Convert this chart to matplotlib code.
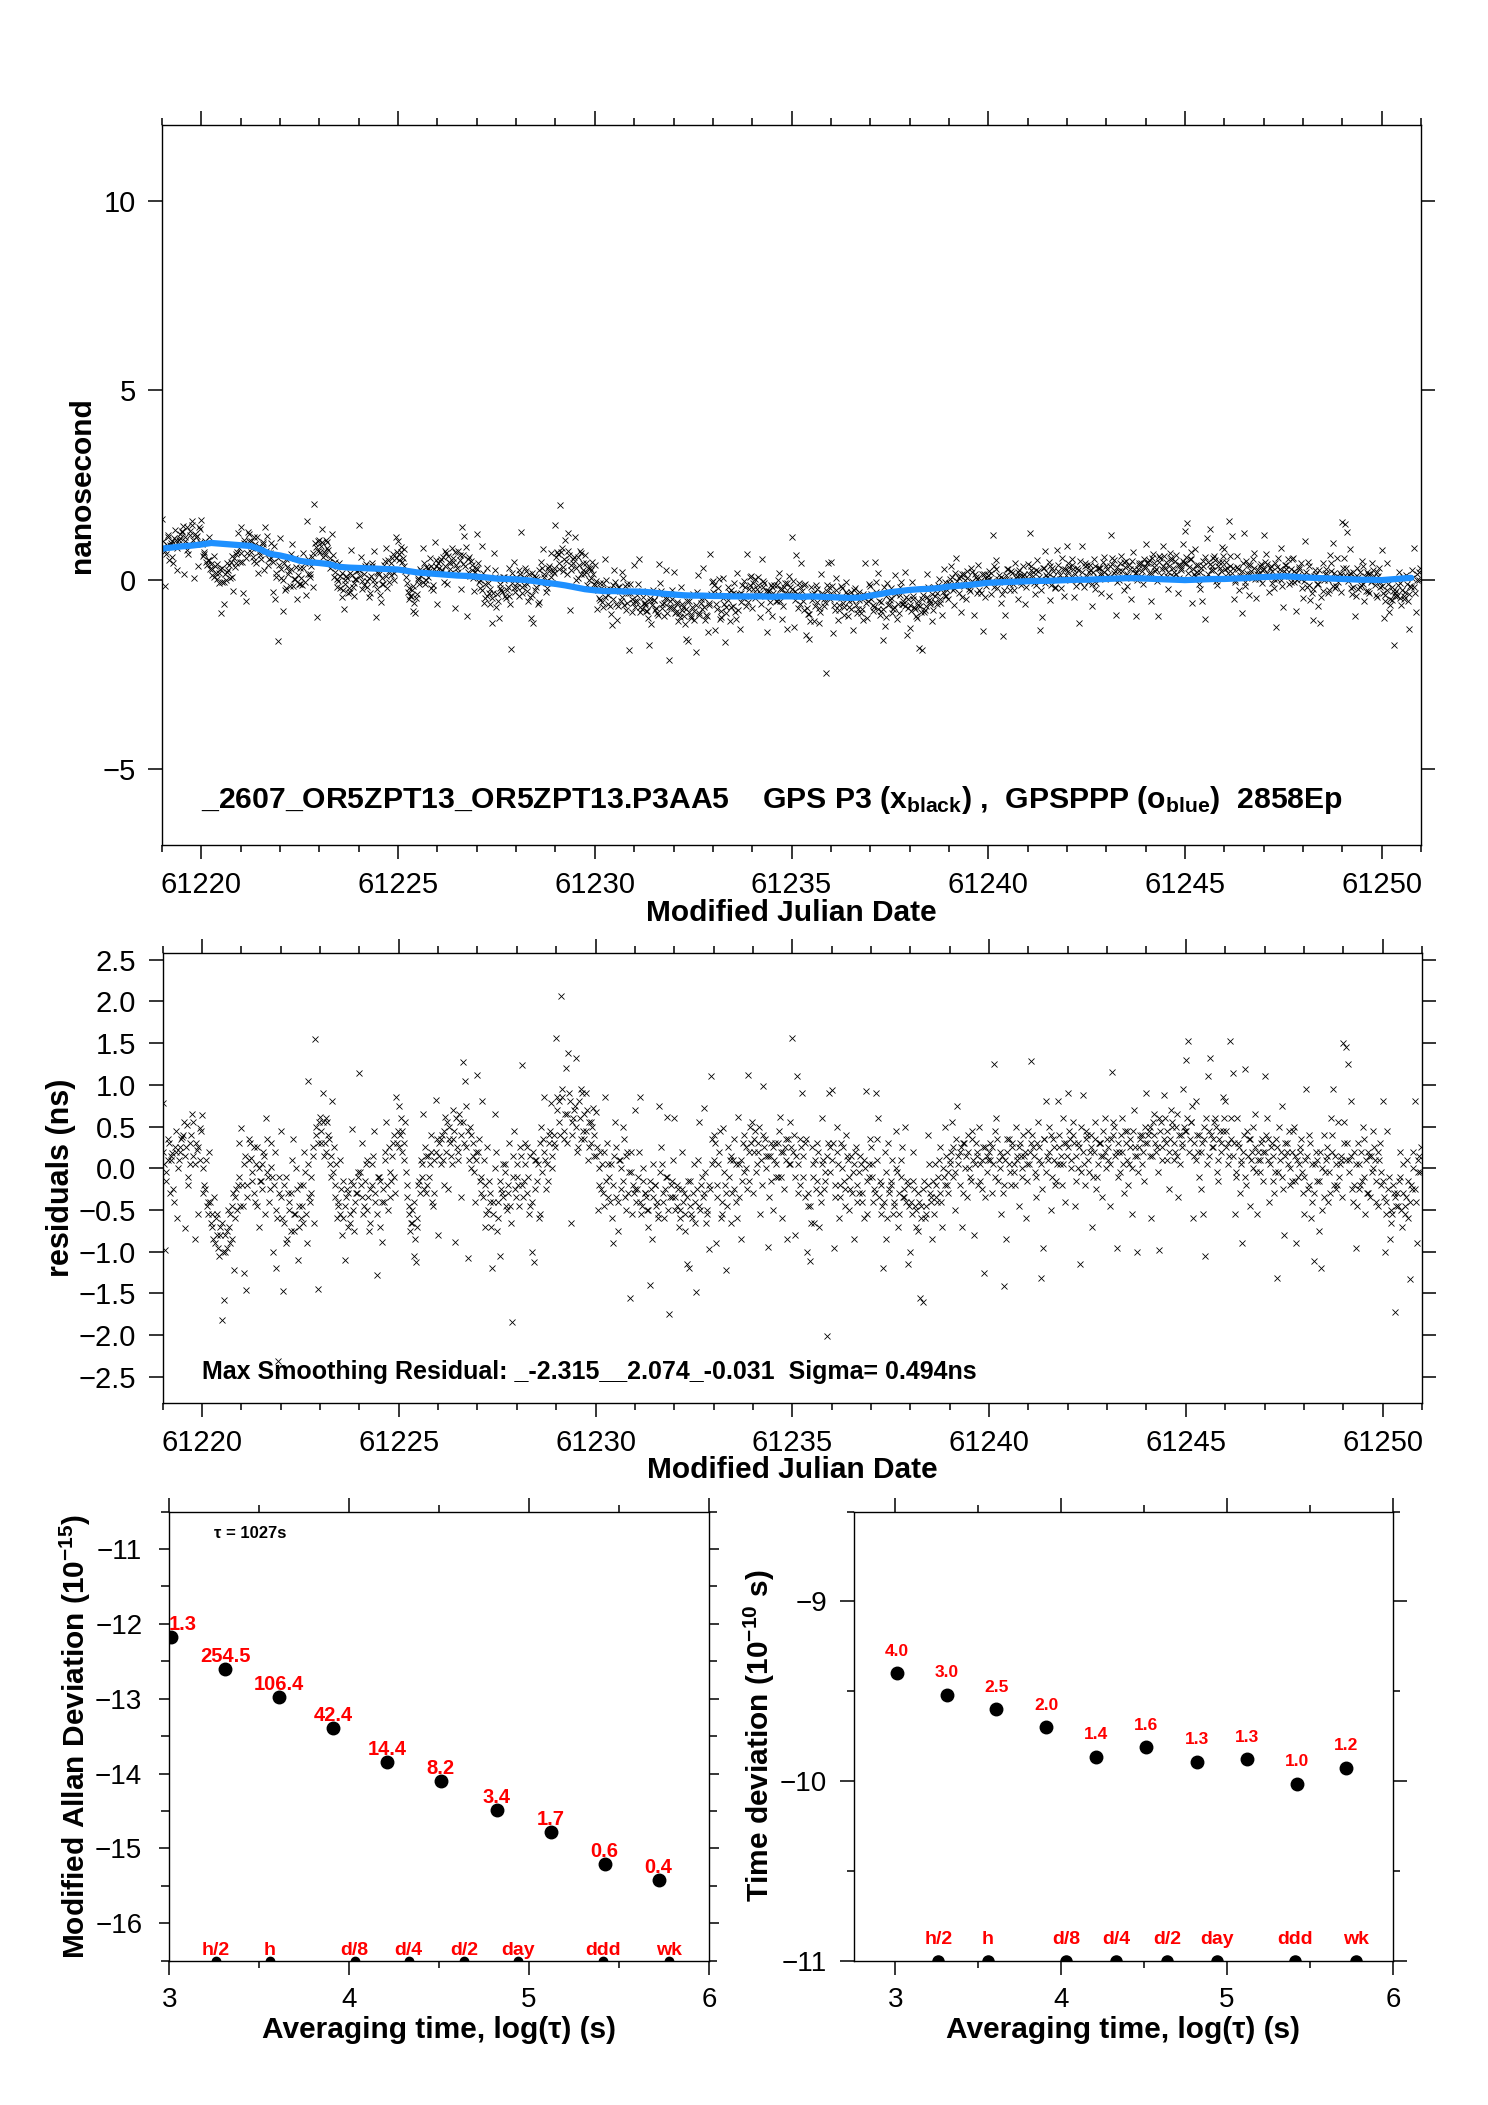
import numpy as np
import matplotlib
matplotlib.use('Agg')
import matplotlib.pyplot as plt
from matplotlib.ticker import MultipleLocator, FuncFormatter, NullLocator

plt.rcParams['font.family'] = ['Liberation Sans', 'DejaVu Sans']
plt.rcParams['mathtext.fontset'] = 'custom'
plt.rcParams['mathtext.rm'] = 'Liberation Sans'
plt.rcParams['mathtext.bf'] = 'Liberation Sans:bold'
plt.rcParams['mathtext.it'] = 'Liberation Sans:italic'

# ---------------- data ----------------
MJD_START = 61219.0
SAMPLES_PER_DAY = 16
BLUE_PER_DAY = 4

# residuals (ns), one list per MJD day (61219 ... 61250), epochs at k/16 day
resid_by_day = [
    [0.78, -0.98, 0.10, -0.30, 0.18, 0.25, -0.60, 0.20, 0.38, -0.72, 0.52, 0.05, 0.65, -0.85, 0.22, 0.48],
    [0.64, -0.20, -0.45, 0.20, -0.55, -0.35, -0.80, -1.05, -1.82, -1.58, -0.95, -0.70, -0.45, -1.22, -0.25, 0.30],
    [0.48, -1.26, -1.46, 0.35, 0.12, -0.30, 0.05, -0.70, -0.15, 0.20, 0.60, -0.10, 0.02, -1.00, -1.20, -2.31],
    [0.45, -1.47, -0.90, -0.30, -0.75, 0.35, -0.55, -1.10, -0.20, -0.65, -0.05, 1.05, -0.40, 0.15, 1.55, -1.45],
    [0.62, 0.90, 0.30, 0.55, 0.05, 0.80, -0.35, -0.60, 0.10, -0.80, -1.10, -0.25, -0.55, 0.47, -0.75, -0.30],
    [1.14, 0.30, -0.45, 0.10, -0.75, -0.20, 0.45, -1.28, -0.10, -0.88, -0.40, 0.55, 0.25, -0.15, 0.40, 0.85],
    [0.75, 0.60, 0.30, -0.05, -0.55, -0.65, -1.05, -1.12, -0.20, 0.10, 0.65, -0.30, 0.15, 0.40, -0.45, 0.82],
    [-0.80, 0.35, 0.10, 0.62, -0.25, 0.30, 0.70, -0.88, 0.20, 0.55, 1.27, 1.04, -1.07, 0.50, 0.15, -0.40],
    [1.12, -0.15, 0.80, -0.70, 0.25, -0.40, -1.20, 0.65, -0.75, -1.05, -0.30, 0.05, -0.50, 0.30, -1.84, 0.45],
    [0.05, -0.45, 1.24, -0.15, 0.25, -0.55, -1.00, -1.12, 0.10, -0.60, 0.50, 0.85, -0.25, 0.40, 0.78, 0.30],
    [1.56, 0.80, 2.07, 0.35, 1.20, 1.38, -0.65, 0.60, 1.32, 0.25, 0.95, 0.45, 0.90, 0.10, 0.55, 0.72],
    [0.68, -0.50, 0.20, -0.30, 0.85, 0.05, -0.40, -0.90, 0.55, -0.75, 0.10, 0.50, -0.35, 0.20, -1.55, -0.55],
    [0.70, -0.25, 0.85, -0.45, -0.30, -0.50, -1.40, -0.85, -0.20, -0.40, 0.75, 0.05, -0.60, 0.62, -1.75, -0.35],
    [0.60, -0.45, -0.70, 0.20, -0.30, -1.15, -1.20, -0.55, 0.05, -1.48, 0.55, -0.20, 0.72, -0.65, -0.97, 1.10],
    [0.40, -0.90, 0.05, -0.60, 0.48, -1.22, 0.25, -0.65, 0.10, -0.40, 0.62, -0.85, 0.30, 0.00, 1.12, 0.50],
    [-0.30, 0.45, 0.20, -0.55, 0.98, 0.35, -0.94, 0.15, -0.50, 0.30, -0.10, 0.62, -0.60, 0.25, -0.85, 0.55],
    [1.56, -0.80, 1.10, 0.35, 0.90, -0.35, -1.00, -1.11, 0.25, -0.65, 0.30, -0.70, 0.60, -0.25, -2.01, 0.90],
    [0.94, -0.95, 0.50, -0.60, 0.30, -0.15, 0.40, -0.50, 0.15, -0.85, 0.25, -0.30, 0.05, -0.60, 0.92, -0.10],
    [0.25, -0.40, 0.90, 0.60, -0.55, -1.20, -0.85, 0.30, -0.20, -0.55, 0.45, -0.70, 0.10, -0.35, 0.50, -1.15],
    [-1.00, 0.20, -0.45, -0.75, -1.55, -1.60, -0.60, 0.40, -0.30, -0.85, 0.05, -0.40, 0.25, -0.70, 0.50, -0.20],
    [0.10, 0.55, -0.50, 0.75, 0.20, -0.70, 0.30, -0.35, 0.00, 0.45, -0.80, 0.20, 0.50, -0.25, -1.25, 0.15],
    [0.20, -0.30, 1.25, 0.60, 0.10, -0.55, -1.41, -0.85, 0.35, -0.20, 0.05, 0.50, -0.45, 0.15, 0.40, -0.60],
    [0.45, 1.28, 0.25, -0.35, 0.55, -1.31, -0.95, 0.80, 0.10, -0.50, 0.35, -0.20, 0.80, 0.05, 0.60, -0.40],
    [0.90, 0.35, 0.55, -0.45, 0.00, -1.15, 0.88, -0.20, 0.40, 0.20, -0.70, 0.55, -0.10, 0.30, -0.35, 0.60],
    [0.35, -0.45, 1.15, 0.50, -0.95, 0.20, 0.60, -0.30, 0.45, 0.05, -0.55, 0.70, -1.00, 0.25, 0.40, -0.15],
    [0.90, 0.45, -0.60, 0.65, 0.20, -0.98, 0.55, 0.88, 0.30, -0.25, 0.70, 0.10, 0.50, -0.35, 0.40, 0.95],
    [1.30, 1.52, 0.55, -0.60, 0.80, 0.20, -0.25, -0.55, -1.05, 1.10, 1.32, 0.35, 0.60, -0.15, 0.45, 0.85],
    [0.80, 0.30, 1.52, 1.14, -0.55, 0.60, -0.30, -0.90, 1.19, 0.45, -0.45, 0.20, 0.65, -0.55, 0.10, 0.35],
    [1.10, 0.60, -0.40, 0.30, -0.30, -1.32, 0.50, 0.75, -0.80, 0.20, 0.45, -0.15, 0.50, -0.90, 0.05, 0.35],
    [-0.55, 0.95, 0.40, -0.60, -1.11, 0.20, -0.75, -1.19, 0.40, 0.10, -0.40, 0.60, 0.95, -0.25, 0.55, 0.15],
    [1.50, 1.45, 1.25, 0.80, -0.40, -0.96, 0.30, -0.20, 0.50, -0.55, 0.20, -0.35, 0.45, 0.10, -0.45, 0.30],
    [0.80, -1.00, 0.45, -0.85, -0.55, -1.72, -0.30, 0.20, -0.70, -0.45, 0.10, -1.33, -0.25, 0.80, -0.90, 0.15],
]

# residuals (ns) for the epochs at (k + 0.5)/16 day
resid_by_day_mid = [
    [0.05, -0.15, 0.30, 0.15, -0.40, 0.20, 0.10, 0.35, 0.55, 0.25, -0.20, 0.40, 0.15, 0.30, -0.55, 0.45],
    [-0.30, 0.10, -0.40, -0.65, -0.85, -0.60, -0.95, -0.70, -1.00, -0.80, -0.50, -0.90, -0.30, -0.60, -0.20, -0.45],
    [-0.45, 0.15, -0.20, 0.30, -0.05, -0.40, 0.25, -0.15, 0.05, -0.55, 0.35, -0.25, -0.10, 0.20, -0.60, -0.30],
    [-0.60, -0.20, -0.85, -0.40, 0.10, -0.55, -0.25, -0.70, -0.45, 0.20, -0.90, -0.35, -0.10, -0.65, 0.40, 0.55],
    [0.45, 0.15, 0.60, 0.35, -0.10, 0.25, 0.05, -0.45, -0.25, -0.60, -0.35, -0.70, -0.15, -0.50, -0.30, -0.05],
    [-0.20, -0.55, 0.05, -0.35, -0.65, 0.15, -0.40, -0.10, -0.70, -0.25, 0.20, -0.50, -0.05, 0.30, -0.30, 0.45],
    [0.40, 0.20, 0.55, -0.35, -0.75, -0.50, -0.85, -0.60, -0.30, -0.10, 0.25, -0.20, 0.05, -0.40, 0.10, 0.35],
    [0.15, 0.40, -0.20, 0.55, 0.35, 0.05, 0.45, 0.25, 0.65, -0.35, 0.30, 0.75, 0.10, 0.40, -0.05, 0.20],
    [0.35, -0.30, 0.10, -0.55, -0.15, -0.70, -0.40, 0.20, -0.60, -0.25, 0.05, -0.45, -0.20, -0.65, 0.15, -0.35],
    [-0.20, 0.15, -0.35, 0.30, -0.10, -0.45, 0.20, -0.25, 0.05, -0.55, 0.35, 0.10, -0.15, 0.45, 0.00, 0.25],
    [0.85, 0.40, 0.95, 0.65, 0.30, 0.80, 0.55, 0.75, 0.20, 0.60, 0.90, 0.35, 0.70, 0.25, 0.50, 0.15],
    [0.25, -0.20, 0.05, -0.45, 0.30, -0.10, -0.60, 0.15, -0.35, 0.10, -0.25, 0.35, -0.50, -0.05, 0.20, -0.30],
    [-0.40, 0.20, -0.55, -0.15, -0.35, -0.70, -0.25, 0.05, -0.45, -0.60, 0.25, -0.30, -0.10, -0.50, -0.20, 0.10],
    [-0.50, -0.25, -0.60, -0.40, -0.75, -0.15, -0.45, -0.30, -0.65, 0.10, -0.50, -0.35, -0.05, -0.55, -0.25, 0.35],
    [0.30, -0.35, 0.45, -0.55, -0.20, -0.45, 0.10, -0.30, 0.35, -0.60, 0.05, -0.15, 0.40, -0.25, 0.20, 0.55],
    [0.35, 0.05, 0.50, -0.20, 0.25, 0.15, -0.35, 0.30, 0.10, -0.10, 0.45, 0.20, -0.25, 0.35, 0.05, 0.25],
    [0.40, 0.15, -0.30, 0.25, -0.10, 0.35, -0.45, -0.65, 0.05, -0.25, 0.20, -0.40, 0.10, -0.15, 0.30, -0.05],
    [0.30, -0.35, 0.05, -0.20, 0.25, -0.45, 0.10, -0.25, -0.05, 0.20, -0.40, 0.15, -0.30, 0.00, -0.55, 0.35],
    [0.05, -0.30, 0.35, -0.15, -0.45, 0.20, -0.60, -0.25, 0.10, -0.40, -0.05, -0.55, 0.25, -0.35, -0.15, -0.45],
    [-0.55, -0.25, -0.70, -0.40, -0.60, -0.15, -0.45, 0.05, -0.35, -0.55, -0.20, 0.10, -0.40, -0.10, 0.15, -0.30],
    [0.20, -0.10, 0.35, 0.05, 0.25, -0.30, 0.15, 0.40, -0.15, 0.10, 0.30, -0.20, 0.05, 0.25, -0.35, 0.10],
    [0.30, 0.05, 0.45, -0.15, 0.20, -0.30, 0.10, 0.35, -0.05, 0.25, -0.20, 0.15, 0.30, -0.10, 0.20, 0.05],
    [0.20, 0.40, -0.05, 0.30, 0.10, -0.25, 0.35, 0.15, 0.50, -0.10, 0.25, 0.05, 0.40, -0.20, 0.30, 0.15],
    [0.45, 0.10, 0.30, -0.15, 0.25, 0.50, 0.05, 0.35, -0.05, 0.40, 0.20, -0.25, 0.30, 0.15, 0.45, 0.00],
    [0.10, 0.35, 0.55, 0.20, -0.10, 0.40, 0.05, 0.30, -0.20, 0.25, 0.45, 0.15, -0.05, 0.35, 0.20, 0.50],
    [0.40, 0.15, 0.55, 0.30, -0.05, 0.45, 0.25, 0.60, 0.10, 0.35, 0.50, 0.20, 0.65, 0.05, 0.30, 0.45],
    [0.60, 0.35, 0.75, 0.15, 0.40, -0.10, 0.30, 0.50, 0.05, 0.45, 0.25, 0.55, -0.05, 0.35, 0.20, 0.60],
    [0.45, 0.15, 0.60, 0.30, -0.10, 0.25, 0.05, 0.40, -0.20, 0.35, 0.10, 0.50, -0.05, 0.20, 0.30, -0.15],
    [0.40, 0.10, 0.25, -0.15, 0.35, -0.05, 0.20, -0.25, 0.30, 0.05, -0.20, 0.45, 0.15, -0.10, 0.25, -0.30],
    [0.10, -0.25, 0.30, -0.40, 0.05, -0.15, 0.20, -0.50, -0.05, 0.25, -0.30, 0.40, 0.15, -0.20, 0.05, -0.35],
    [0.55, 0.30, 0.10, -0.25, 0.20, -0.45, 0.05, -0.15, 0.35, -0.30, 0.15, -0.05, 0.25, -0.40, 0.10, -0.20],
    [-0.35, -0.55, -0.10, -0.65, -0.30, -0.45, -0.15, -0.50, 0.05, -0.35, -0.60, -0.20, 0.20, -0.40, -0.05, 0.25],
]

# residuals (ns) for the epochs at (k + 0.25)/16 day
resid_by_day_quarter = [
    [0.20, -0.05, 0.35, 0.10, -0.25, 0.45, 0.00, 0.25, 0.40, 0.15, -0.10, 0.30, 0.55, 0.05, 0.25, 0.10],
    [0.00, -0.25, -0.55, -0.40, -0.70, -0.90, -0.55, -0.80, -0.65, -1.00, -0.75, -0.55, -0.85, -0.35, -0.50, -0.10],
    [-0.20, 0.05, -0.35, 0.10, -0.15, 0.25, -0.45, 0.00, -0.25, 0.15, -0.05, -0.40, 0.30, -0.20, -0.50, -0.10],
    [-0.35, -0.65, -0.10, -0.50, -0.30, -0.75, 0.00, -0.45, -0.60, -0.20, -0.55, 0.05, -0.30, 0.25, 0.50, 0.30],
    [0.30, 0.55, 0.20, 0.40, 0.15, -0.05, -0.20, -0.40, -0.55, -0.15, -0.45, -0.30, -0.65, -0.20, -0.40, -0.10],
    [-0.05, -0.35, -0.15, -0.50, -0.25, 0.05, -0.30, -0.55, -0.15, -0.40, 0.10, -0.20, -0.35, 0.15, -0.10, 0.30],
    [0.25, 0.45, 0.10, -0.20, -0.45, -0.65, -0.40, -0.70, -0.15, 0.05, -0.25, 0.15, -0.10, 0.20, -0.30, 0.20],
    [0.30, 0.05, 0.45, 0.20, 0.50, 0.15, 0.35, 0.60, 0.10, 0.40, 0.55, 0.25, 0.45, 0.00, 0.30, 0.10],
    [0.20, -0.10, -0.35, -0.20, -0.50, -0.30, -0.55, 0.00, -0.40, -0.15, -0.35, -0.05, -0.30, -0.45, -0.10, -0.25],
    [-0.10, 0.25, -0.20, 0.05, -0.30, 0.15, -0.40, 0.10, -0.15, 0.30, -0.05, 0.20, 0.05, 0.30, 0.15, 0.40],
    [0.70, 0.55, 0.85, 0.45, 0.65, 0.90, 0.40, 0.70, 0.50, 0.80, 0.35, 0.65, 0.45, 0.55, 0.30, 0.40],
    [0.15, 0.00, -0.25, 0.20, -0.15, -0.35, 0.05, -0.20, 0.25, -0.40, 0.00, -0.15, 0.15, -0.30, -0.05, -0.20],
    [-0.25, -0.10, -0.40, 0.00, -0.30, -0.50, -0.15, -0.35, -0.20, -0.55, -0.05, -0.40, -0.25, -0.10, -0.35, -0.15],
    [-0.35, -0.20, -0.50, -0.25, -0.55, -0.35, -0.15, -0.60, -0.40, -0.25, -0.45, -0.10, -0.30, -0.50, -0.20, 0.05],
    [0.10, -0.20, 0.20, -0.40, -0.05, -0.30, -0.10, 0.15, -0.25, 0.05, -0.35, 0.10, -0.05, 0.25, -0.15, 0.30],
    [0.20, -0.05, 0.30, 0.10, 0.40, 0.00, 0.15, -0.15, 0.25, 0.05, 0.30, -0.10, 0.20, 0.10, 0.35, 0.05],
    [0.20, -0.10, 0.05, -0.20, 0.15, 0.30, -0.30, -0.45, -0.10, 0.10, -0.15, -0.30, 0.05, -0.05, 0.15, 0.25],
    [0.10, -0.20, 0.20, -0.35, 0.00, -0.25, 0.15, -0.10, -0.30, 0.05, -0.20, -0.05, -0.40, 0.10, -0.15, 0.05],
    [-0.10, -0.25, 0.10, -0.35, -0.20, -0.40, -0.05, -0.30, -0.15, -0.45, 0.00, -0.30, -0.10, -0.25, -0.40, -0.20],
    [-0.40, -0.15, -0.50, -0.30, -0.45, -0.25, -0.55, -0.20, -0.40, -0.15, -0.35, -0.10, -0.30, 0.00, -0.20, -0.05],
    [0.05, 0.25, -0.05, 0.15, -0.20, 0.30, 0.00, 0.20, -0.10, 0.35, 0.05, 0.15, -0.15, 0.10, 0.25, -0.05],
    [0.10, 0.25, -0.10, 0.35, 0.00, 0.15, -0.20, 0.20, 0.05, 0.30, -0.05, 0.10, 0.25, 0.00, 0.15, -0.15],
    [0.05, 0.30, 0.15, -0.10, 0.25, 0.05, 0.35, -0.05, 0.20, 0.40, 0.10, -0.15, 0.25, 0.15, 0.05, 0.30],
    [0.25, 0.00, 0.40, 0.15, 0.30, -0.05, 0.20, 0.45, 0.10, 0.25, -0.10, 0.35, 0.05, 0.30, 0.15, 0.20],
    [0.25, 0.05, 0.40, 0.15, 0.30, -0.05, 0.20, 0.45, 0.10, 0.35, 0.00, 0.25, 0.15, 0.40, 0.05, 0.30],
    [0.30, 0.50, 0.15, 0.40, 0.25, 0.60, 0.10, 0.35, 0.45, 0.20, 0.55, 0.30, 0.15, 0.40, 0.25, 0.50],
    [0.45, 0.20, 0.55, 0.30, 0.10, 0.40, 0.20, 0.35, 0.60, 0.15, 0.40, 0.25, 0.50, 0.10, 0.30, 0.45],
    [0.25, 0.05, 0.35, 0.15, -0.05, 0.30, 0.10, 0.20, -0.10, 0.15, 0.35, 0.00, 0.25, 0.10, -0.05, 0.20],
    [0.20, 0.35, 0.05, 0.15, -0.05, 0.25, 0.10, -0.10, 0.15, 0.30, 0.00, 0.20, -0.15, 0.10, 0.20, -0.05],
    [-0.10, 0.15, -0.20, 0.05, -0.30, 0.10, -0.15, 0.00, -0.35, 0.15, -0.05, 0.20, -0.20, 0.05, -0.10, 0.10],
    [0.30, 0.10, -0.05, 0.15, -0.20, 0.05, -0.25, 0.20, -0.10, 0.10, -0.30, 0.15, 0.00, -0.15, 0.20, -0.05],
    [-0.15, -0.40, -0.25, -0.50, -0.20, -0.35, -0.45, -0.10, -0.30, -0.55, -0.15, -0.40, 0.00, -0.25, 0.10, -0.05],
]

# GPSPPP (blue) series, ns, 4 samples per day from MJD 61219.0
blue_ppp = [
    0.82, 0.85, 0.88, 0.90,   0.93, 0.97, 0.95, 0.93,   0.91, 0.89, 0.80, 0.68,
    0.64, 0.58, 0.50, 0.46,   0.44, 0.41, 0.34, 0.32,   0.31, 0.30, 0.29, 0.28,
    0.27, 0.23, 0.19, 0.17,   0.15, 0.13, 0.11, 0.10,   0.08, 0.06, 0.03, 0.02,
    0.01, -0.01, -0.04, -0.08, -0.11, -0.15, -0.20, -0.25, -0.28, -0.30, -0.30, -0.31,
    -0.31, -0.32, -0.34, -0.37, -0.39, -0.41, -0.42, -0.42, -0.43, -0.43, -0.44, -0.44,
    -0.44, -0.44, -0.45, -0.44, -0.44, -0.45, -0.44, -0.45, -0.46, -0.47, -0.48, -0.47,
    -0.42, -0.38, -0.33, -0.30, -0.27, -0.25, -0.24, -0.22, -0.18, -0.16, -0.14, -0.11,
    -0.08, -0.07, -0.06, -0.05, -0.04, -0.03, -0.03, -0.02, -0.01, 0.00, 0.00, 0.01,
    0.02, 0.03, 0.04, 0.04,   0.03, 0.02, 0.01, 0.00,   -0.01, 0.00, 0.01, 0.02,
    0.02, 0.03, 0.04, 0.06,   0.07, 0.08, 0.09, 0.08,   0.06, 0.05, 0.04, 0.03,
    0.02, 0.01, 0.00, 0.00,   -0.01, 0.01, 0.03, 0.05,
]

title_text = (r'_2607_OR5ZPT13_OR5ZPT13.P3AA5    GPS P3 (x$_{\mathbf{black}}$) ,  '
              r'GPSPPP (o$_{\mathbf{blue}}$)  2858Ep')
resid_text = 'Max Smoothing Residual: _-2.315__2.074_-0.031  Sigma= 0.494ns'

# stability analysis
log_tau = [3.01, 3.31, 3.61, 3.91, 4.21, 4.51, 4.82, 5.12, 5.42, 5.72]
mdev_log = [-12.18, -12.60, -12.98, -13.39, -13.85, -14.10, -14.49, -14.78, -15.21, -15.42]
mdev_labels = ['1.3', '254.5', '106.4', '42.4', '14.4', '8.2', '3.4', '1.7', '0.6', '0.4']
tdev_log = [-9.40, -9.52, -9.60, -9.70, -9.865, -9.81, -9.893, -9.88, -10.015, -9.926]
tdev_labels = ['4.0', '3.0', '2.5', '2.0', '1.4', '1.6', '1.3', '1.3', '1.0', '1.2']
period_names = ['h/2', 'h', 'd/8', 'd/4', 'd/2', 'day', 'ddd', 'wk']
period_log_tau = [3.26, 3.56, 4.03, 4.33, 4.64, 4.94, 5.41, 5.78]
tau0_text = 'τ = 1027s'

# ---------------- derived ----------------
rep = SAMPLES_PER_DAY // BLUE_PER_DAY
blue = np.asarray(blue_ppp, float)
blue_mjd = MJD_START + np.arange(blue.size) / BLUE_PER_DAY
blue_on_grid = np.repeat(blue, rep)

mjd_parts, resid_parts, raw_parts = [], [], []
for sets, phase in ((resid_by_day, 0.0), (resid_by_day_quarter, 0.25), (resid_by_day_mid, 0.5)):
    r = np.concatenate([np.asarray(d, float) for d in sets])
    mjd_parts.append(MJD_START + (np.arange(r.size) + phase) / SAMPLES_PER_DAY)
    resid_parts.append(r)
    raw_parts.append(blue_on_grid + r)
mjd = np.concatenate(mjd_parts)
resid = np.concatenate(resid_parts)
raw = np.concatenate(raw_parts)

BLUE_C = '#1E90FF'
RED = '#FF0000'
LABEL_FS = 21.5
XMS, XMEW = 4.0, 0.6


def minus(s):
    return s.replace('-', '\u2212')


def style(ax, fs):
    ax.tick_params(which='both', direction='out', top=True, right=True,
                   labeltop=False, labelright=False, labelsize=fs, width=1.1, pad=9)
    ax.tick_params(which='major', length=10)
    ax.tick_params(which='minor', length=5)
    for s in ax.spines.values():
        s.set_linewidth(1.0)


fig = plt.figure(figsize=(14.88, 21.05), dpi=100)

# ---- top panel ----
ax1 = fig.add_axes([0.1089, 0.5986, 0.8461, 0.3420])
ax1.plot(mjd, raw, linestyle='none', marker='x', color='black', ms=XMS, mew=XMEW)
ax1.plot(blue_mjd, blue, color=BLUE_C, lw=4.5, solid_capstyle='round')
ax1.set_xlim(61219, 61251)
ax1.set_ylim(-7, 12)
ax1.xaxis.set_major_locator(MultipleLocator(5))
ax1.xaxis.set_minor_locator(MultipleLocator(1))
ax1.xaxis.set_major_formatter(FuncFormatter(lambda v, p: f'{v:.0f}'))
ax1.yaxis.set_major_locator(MultipleLocator(5))
ax1.yaxis.set_minor_locator(NullLocator())
style(ax1, 21)
ax1.set_ylabel('nanosecond', fontsize=LABEL_FS, fontweight='bold', va='center')
ax1.yaxis.set_label_coords(-0.0635, 0.5)
ax1.set_xlabel('Modified Julian Date', fontsize=LABEL_FS, fontweight='bold', va='center')
ax1.xaxis.set_label_coords(0.5, -0.094)
ax1.text(0.031, 0.0625, title_text, transform=ax1.transAxes, fontsize=21.7,
         fontweight='bold', ha='left', va='center')

# ---- residual panel ----
ax2 = fig.add_axes([0.1093, 0.3336, 0.8463, 0.2135])
ax2.plot(mjd, resid, linestyle='none', marker='x', color='black', ms=XMS, mew=XMEW)
ax2.set_xlim(61219, 61251)
ax2.set_ylim(-2.81, 2.575)
ax2.xaxis.set_major_locator(MultipleLocator(5))
ax2.xaxis.set_minor_locator(MultipleLocator(1))
ax2.xaxis.set_major_formatter(FuncFormatter(lambda v, p: f'{v:.0f}'))
ax2.yaxis.set_major_locator(MultipleLocator(0.5))
ax2.yaxis.set_minor_locator(NullLocator())
ax2.yaxis.set_major_formatter(FuncFormatter(lambda v, p: minus(f'{(0.0 if abs(v) < 1e-9 else v):.1f}')))
style(ax2, 21)
ax2.set_ylabel('residuals (ns)', fontsize=22, fontweight='bold', va='center')
ax2.yaxis.set_label_coords(-0.0808, 0.5)
ax2.set_xlabel('Modified Julian Date', fontsize=LABEL_FS, fontweight='bold', va='center')
ax2.xaxis.set_label_coords(0.5, -0.1495)
ax2.text(0.0316, 0.0685, resid_text, transform=ax2.transAxes, fontsize=18,
         fontweight='bold', ha='left', va='center')

# ---- MDEV panel ----
ax3 = fig.add_axes([0.1138, 0.0686, 0.3626, 0.2133])
ax3.plot(log_tau, mdev_log, linestyle='none', marker='o', color='black', ms=9)
ax3.set_xlim(3, 6)
ax3.set_ylim(-16.5, -10.5)
for i, (x, y, lab) in enumerate(zip(log_tau, mdev_log, mdev_labels)):
    ax3.annotate(lab, (x, y), xytext=(-2 if i == 0 else 0, 5), textcoords='offset points',
                 ha='left' if i == 0 else 'center', va='baseline', color=RED,
                 fontsize=14.5, fontweight='bold')
ax3.plot(period_log_tau, [0] * len(period_log_tau), linestyle='none', marker='o', color='black',
         ms=6, transform=ax3.get_xaxis_transform())
for x, lab in zip(period_log_tau, period_names):
    ax3.annotate(lab, (x, 0), xycoords=ax3.get_xaxis_transform(), xytext=(0, 4.3),
                 textcoords='offset points', ha='center', va='baseline', color=RED,
                 fontsize=14, fontweight='bold')
ax3.text(0.083, 0.952, tau0_text, transform=ax3.transAxes, fontsize=12,
         fontweight='bold', ha='left', va='center')
ax3.xaxis.set_major_locator(MultipleLocator(1))
ax3.xaxis.set_minor_locator(MultipleLocator(0.5))
ax3.yaxis.set_major_locator(MultipleLocator(1))
ax3.yaxis.set_minor_locator(MultipleLocator(0.5))
style(ax3, 20)
ax3.tick_params(axis='y', which='major', length=7.5, pad=12)
ax3.tick_params(axis='y', which='minor', length=5.5)
ax3.set_ylabel(r'Modified Allan Deviation (10$^{\mathbf{-15}}$)', fontsize=LABEL_FS,
               fontweight='bold', va='center')
ax3.yaxis.set_label_coords(-0.175, 0.5)
ax3.set_xlabel('Averaging time, log(τ) (s)', fontsize=LABEL_FS, fontweight='bold', va='center')
ax3.xaxis.set_label_coords(0.5, -0.1546)

# ---- TDEV panel ----
ax4 = fig.add_axes([0.5737, 0.0686, 0.3624, 0.2133])
ax4.plot(log_tau, tdev_log, linestyle='none', marker='o', color='black', ms=9)
ax4.set_xlim(2.75, 6)
ax4.set_ylim(-11, -8.5)
for x, y, lab in zip(log_tau, tdev_log, tdev_labels):
    ax4.annotate(lab, (x, y), xytext=(0, 12.5), textcoords='offset points',
                 ha='center', va='baseline', color=RED, fontsize=12.5, fontweight='bold')
ax4.plot(period_log_tau, [0] * len(period_log_tau), linestyle='none', marker='o', color='black',
         ms=8, transform=ax4.get_xaxis_transform())
for x, lab in zip(period_log_tau, period_names):
    ax4.annotate(lab, (x, 0), xycoords=ax4.get_xaxis_transform(), xytext=(0, 12),
                 textcoords='offset points', ha='center', va='baseline', color=RED,
                 fontsize=14, fontweight='bold')
ax4.xaxis.set_major_locator(MultipleLocator(1))
ax4.xaxis.set_minor_locator(MultipleLocator(0.5))
ax4.yaxis.set_major_locator(MultipleLocator(1))
ax4.yaxis.set_minor_locator(MultipleLocator(0.5))
style(ax4, 20)
ax4.set_ylabel(r'Time deviation (10$^{\mathbf{-10}}$ s)', fontsize=LABEL_FS,
               fontweight='bold', va='center')
ax4.yaxis.set_label_coords(-0.1754, 0.5)
ax4.set_xlabel('Averaging time, log(τ) (s)', fontsize=LABEL_FS, fontweight='bold', va='center')
ax4.xaxis.set_label_coords(0.5, -0.1546)

fig.savefig('out.png', dpi=100, facecolor='white')
